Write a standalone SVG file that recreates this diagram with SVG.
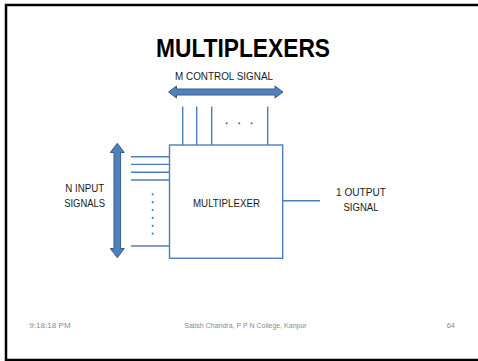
<svg xmlns="http://www.w3.org/2000/svg" width="478" height="361" viewBox="0 0 478 361">
  <style>
    .frame { fill: #ffffff; stroke: #000000; stroke-width: 2.5; }
    .title { font-family: "Liberation Sans", Arial, sans-serif; font-weight: bold; font-size: 25px; fill: #000000; text-anchor: middle; }
    .label { font-family: "Liberation Sans", Arial, sans-serif; font-size: 10.5px; fill: #1a1a1a; text-anchor: middle; }
    .footer { font-family: "Liberation Sans", Arial, sans-serif; font-size: 7.5px; fill: #8b8b8b; }
    .block { fill: #4f81bd; stroke: #385d8a; stroke-width: 1; }
    .wire { fill: none; stroke: #4a7ebb; stroke-width: 1.4; }
    .box { fill: #ffffff; stroke: #4a7ebb; stroke-width: 1.4; }
    .dot { fill: #4a7ebb; }
  </style>

  <!-- slide background and frame -->
  <rect x="0" y="0" width="478" height="361" fill="#ffffff"/>
  <rect class="frame" x="6" y="5" width="490" height="355"/>

  <text class="title" x="243" y="57" textLength="174" lengthAdjust="spacingAndGlyphs">MULTIPLEXERS</text>

  <!-- wires between the signal groups and the multiplexer -->
  <g id="connectors">
    <!-- control lines -->
    <line class="wire" x1="182.7" y1="106.5" x2="182.7" y2="145"/>
    <line class="wire" x1="196.7" y1="106.5" x2="196.7" y2="145"/>
    <line class="wire" x1="211.7" y1="106.5" x2="211.7" y2="145"/>
    <line class="wire" x1="267.7" y1="106.5" x2="267.7" y2="145"/>
    <circle class="dot" cx="226.7" cy="123.3" r="1.1"/>
    <circle class="dot" cx="239.2" cy="123.3" r="1.1"/>
    <circle class="dot" cx="251.7" cy="123.3" r="1.1"/>
    <!-- input lines -->
    <line class="wire" x1="131" y1="156.7" x2="169.5" y2="156.7"/>
    <line class="wire" x1="131" y1="164.4" x2="169.5" y2="164.4"/>
    <line class="wire" x1="131" y1="172.3" x2="169.5" y2="172.3"/>
    <line class="wire" x1="131" y1="180" x2="169.5" y2="180"/>
    <line class="wire" x1="131" y1="246" x2="169.5" y2="246"/>
    <circle class="dot" cx="152.7" cy="194.3" r="1.1"/>
    <circle class="dot" cx="152.7" cy="202.2" r="1.1"/>
    <circle class="dot" cx="152.7" cy="210" r="1.1"/>
    <circle class="dot" cx="152.7" cy="217.9" r="1.1"/>
    <circle class="dot" cx="152.7" cy="225.8" r="1.1"/>
    <circle class="dot" cx="152.7" cy="233.7" r="1.1"/>
    <!-- output line -->
    <line class="wire" x1="282.7" y1="200.7" x2="320" y2="200.7"/>
  </g>

  <g id="control-signal">
    <path class="block" d="M168.5,92 L176.5,86 L176.5,89 L275,89 L275,86 L283,92 L275,98 L275,95 L176.5,95 L176.5,98 Z"/>
    <text class="label" x="224" y="80" textLength="98" lengthAdjust="spacingAndGlyphs">M CONTROL SIGNAL</text>
  </g>

  <g id="input-signals">
    <path class="block" d="M117.3,143.3 L124.3,152.5 L120.6,152.5 L120.6,248.5 L124.3,248.5 L117.3,257.7 L110.3,248.5 L114,248.5 L114,152.5 L110.3,152.5 Z"/>
    <text class="label" x="84.7" y="192.3" textLength="39" lengthAdjust="spacingAndGlyphs">N INPUT</text>
    <text class="label" x="84.7" y="206.7" textLength="41" lengthAdjust="spacingAndGlyphs">SIGNALS</text>
  </g>

  <g id="multiplexer">
    <rect class="box" x="169.5" y="145" width="113.2" height="113.3"/>
    <text class="label" x="226.5" y="207.3" textLength="67" lengthAdjust="spacingAndGlyphs">MULTIPLEXER</text>
  </g>

  <g id="output-signal">
    <text class="label" x="361" y="195.7" textLength="50" lengthAdjust="spacingAndGlyphs">1 OUTPUT</text>
    <text class="label" x="361" y="211" textLength="35" lengthAdjust="spacingAndGlyphs">SIGNAL</text>
  </g>

  <!-- footer -->
  <text class="footer" x="29.3" y="328.3" textLength="41.4" lengthAdjust="spacingAndGlyphs">9:18:18 PM</text>
  <text class="footer" x="245.5" y="328.3" text-anchor="middle" textLength="122.4" lengthAdjust="spacingAndGlyphs">Satish Chandra, P P N College, Kanpur</text>
  <text class="footer" x="455" y="328.3" text-anchor="end">64</text>
</svg>
